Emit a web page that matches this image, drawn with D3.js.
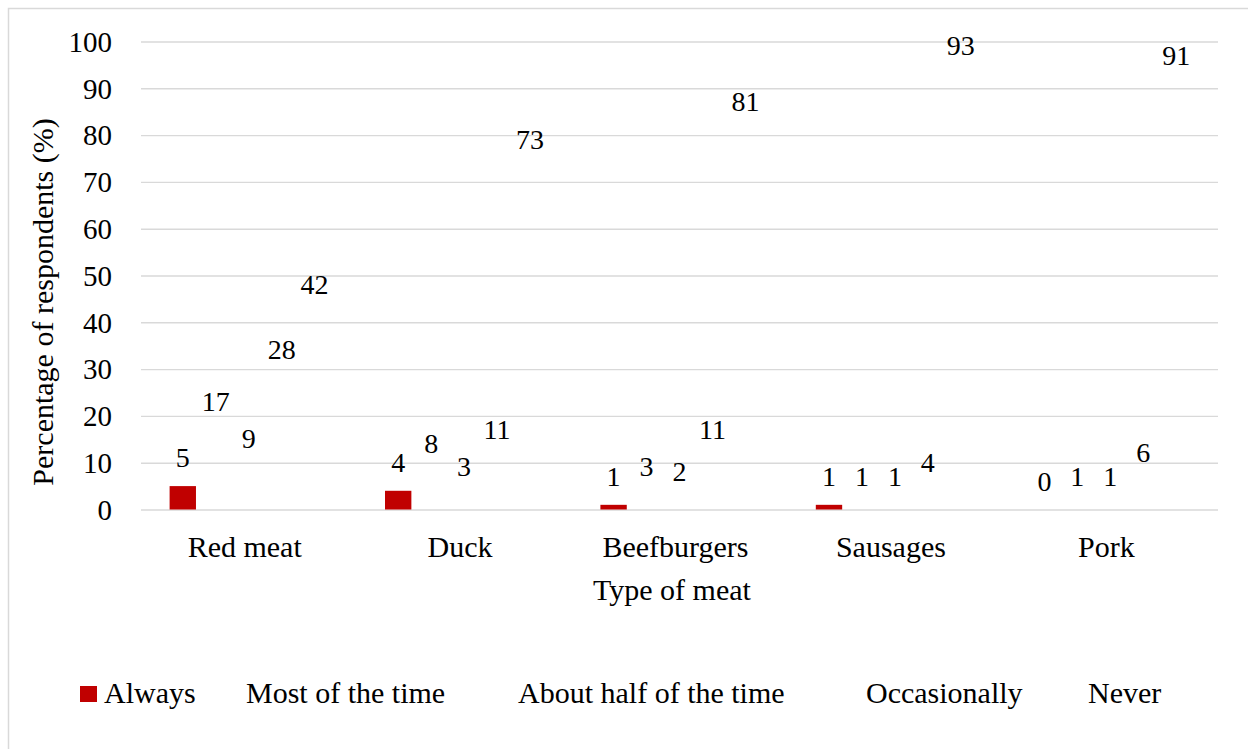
<!DOCTYPE html>
<html>
<head>
<meta charset="utf-8">
<script src="https://cdn.jsdelivr.net/npm/d3@7/dist/d3.min.js"></script>
<style>
  html, body { margin: 0; padding: 0; background: #fff; }
  svg text { font-family: "Liberation Serif", Tinos, "Times New Roman", Times, "DejaVu Serif", serif !important; fill: #000; }
</style>
</head>
<body>
<svg id="chart" width="1248" height="749"></svg>
<script>
// ---- data ----
const categories = ["Red meat", "Duck", "Beefburgers", "Sausages", "Pork"];
const seriesNames = ["Always", "Most of the time", "About half of the time", "Occasionally", "Never"];
const always      = [5, 4, 1, 1, 0];
const mostOfTime  = [17, 8, 3, 1, 1];
const aboutHalf   = [9, 3, 2, 1, 1];
const occasionally= [28, 11, 11, 4, 6];
const never       = [42, 73, 81, 93, 91];
const yTicks = [0, 10, 20, 30, 40, 50, 60, 70, 80, 90, 100];
const xTitle = "Type of meat";
const yTitle = "Percentage of respondents (%)";

// ---- styling / layout ----
const seriesFill = ["#C00000", "none", "none", "none", "none"];
const legendX = [80, 222, 494, 842, 1064];
const FS = 29;
const FS2 = 30;

const seriesValues = [always, mostOfTime, aboutHalf, occasionally, never];
const data = categories.map((c, i) => ({
  cat: c,
  vals: seriesNames.map((s, j) => ({ series: s, idx: j, value: seriesValues[j][i] }))
}));

const svg = d3.select("#chart");

// outer border (only left/top visible in frame)
svg.append("rect").attr("x", 8.5).attr("y", 8.5).attr("width", 1400).attr("height", 900)
  .attr("fill", "none").attr("stroke", "#d9d9d9").attr("stroke-width", 1.5);

const x0 = d3.scaleBand().domain(categories).range([141, 1218]).paddingInner(0.235).paddingOuter(0.1175);
const x1 = d3.scaleBand().domain(seriesNames).range([0, x0.bandwidth()]).paddingInner(0.2).paddingOuter(0.1);
const y = d3.scaleLinear().domain([0, 100]).range([509.5, 41.5]);

// gridlines
const yAxis = d3.axisLeft(y).tickValues(yTicks).tickSize(-(1218 - 141)).tickPadding(29);
const gy = svg.append("g").attr("transform", "translate(141,0)").call(yAxis);
gy.attr("font-family", null);
gy.select(".domain").remove();
gy.selectAll(".tick line").attr("stroke", "#d9d9d9").attr("stroke-width", 1.4);
gy.selectAll(".tick text").attr("font-size", FS).attr("fill", "#000")
  .attr("dy", "0.34em");

// bars
const groups = svg.append("g").selectAll("g").data(data).join("g")
  .attr("transform", d => `translate(${x0(d.cat)},0)`);
groups.selectAll("rect").data(d => d.vals).join("rect")
  .attr("x", d => x1(d.series))
  .attr("width", x1.bandwidth())
  .attr("y", d => y(d.value))
  .attr("height", d => y(0) - y(d.value))
  .attr("fill", d => seriesFill[d.idx]);

// data labels
groups.selectAll("text").data(d => d.vals).join("text")
  .attr("x", d => x1(d.series) + x1.bandwidth() / 2)
  .attr("y", d => y(d.value) - 19)
  .attr("text-anchor", "middle")
  .attr("font-size", 28)
  .text(d => d.value);

// category axis labels
const xAxis = d3.axisBottom(x0).tickSize(0).tickPadding(0);
const gx = svg.append("g").attr("transform", "translate(-4,557)").call(xAxis);
gx.attr("font-family", null);
gx.select(".domain").remove();
gx.selectAll(".tick text").attr("font-size", FS2).attr("fill", "#000")
  .attr("dy", 0);

// axis titles
svg.append("text").attr("x", 672).attr("y", 600).attr("text-anchor", "middle")
  .attr("font-size", FS2).text(xTitle);
svg.append("text").attr("transform", "translate(53,302) rotate(-90)").attr("text-anchor", "middle")
  .attr("font-size", FS2).text(yTitle);

// legend
const lg = svg.append("g").selectAll("g").data(seriesNames).join("g")
  .attr("transform", (d, i) => `translate(${legendX[i]},686)`);
lg.append("rect").attr("width", 17).attr("height", 16).attr("fill", (d, i) => seriesFill[i]);
lg.append("text").attr("x", 24).attr("y", 17).attr("font-size", FS2).text(d => d);
</script>
</body>
</html>
